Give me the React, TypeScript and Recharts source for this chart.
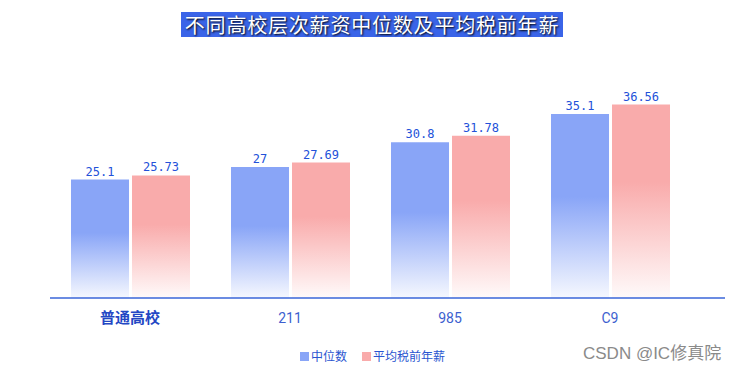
import React from "react";
import { BarChart, Bar, XAxis, YAxis, LabelList } from "recharts";

const categories = ["普通高校", "211", "985", "C9"];
const median = [25.1, 27, 30.8, 35.1];
const avgPreTax = [25.73, 27.69, 31.78, 36.56];

const data = categories.map((name, i) => ({
  name,
  median: median[i],
  avg: avgPreTax[i],
}));

const BLUE = "#89a5f7";
const PINK = "#f9abab";

function CategoryTick(props: any) {
  const { x, y, payload } = props;
  const first = payload.index === 0;
  return (
    <text
      x={x}
      y={y + 17}
      textAnchor="middle"
      fill={first ? "#2347c4" : "#3d5fcf"}
      fontSize={first ? 15 : 14}
      fontWeight={first ? 700 : 400}
      fontFamily="Roboto, 'Noto Sans CJK SC', sans-serif"
    >
      {payload.value}
    </text>
  );
}

export default function App() {
  return (
    <div
      style={{
        position: "absolute",
        left: 0,
        top: 0,
        width: 746,
        height: 372,
        background: "#fff",
        fontFamily: "'Noto Sans CJK SC', sans-serif",
      }}
    >
      <div
        style={{
          position: "absolute",
          left: 181,
          top: 12,
          width: 382,
          height: 25,
          background: "#3a64e8",
          color: "#fff",
          fontSize: 20,
          lineHeight: "25px",
          textAlign: "center",
          textShadow: "1px 1px 2px #000",
          letterSpacing: 0.8,
        }}
      >
        不同高校层次薪资中位数及平均税前年薪
      </div>
      <BarChart
        width={746}
        height={372}
        data={data}
        margin={{ top: 82, right: 21, left: 50, bottom: 44 }}
        barSize={58}
        barGap={3}
      >
        <defs>
          <linearGradient id="gBlue" x1="0" y1="0" x2="0" y2="1">
            <stop offset="0" stopColor={BLUE} stopOpacity={1} />
            <stop offset="0.45" stopColor={BLUE} stopOpacity={1} />
            <stop offset="1" stopColor={BLUE} stopOpacity={0.08} />
          </linearGradient>
          <linearGradient id="gPink" x1="0" y1="0" x2="0" y2="1">
            <stop offset="0" stopColor={PINK} stopOpacity={1} />
            <stop offset="0.4" stopColor={PINK} stopOpacity={1} />
            <stop offset="1" stopColor={PINK} stopOpacity={0.06} />
          </linearGradient>
        </defs>
        <XAxis
          dataKey="name"
          height={30}
          padding={{ left: 0, right: 35 }}
          axisLine={{ stroke: "#3a66d8", strokeWidth: 1.5 }}
          tickLine={false}
          tick={<CategoryTick />}
          interval={0}
        />
        <YAxis hide domain={[7, 40]} allowDataOverflow />
        <Bar dataKey="median" fill="url(#gBlue)" isAnimationActive={false}>
          <LabelList
            dataKey="median"
            position="top"
            offset={4}
            fill="#2251d9"
            fontSize={12}
            fontFamily="'DejaVu Sans Mono', monospace"
          />
        </Bar>
        <Bar dataKey="avg" fill="url(#gPink)" isAnimationActive={false}>
          <LabelList
            dataKey="avg"
            position="top"
            offset={4}
            fill="#2251d9"
            fontSize={12}
            fontFamily="'DejaVu Sans Mono', monospace"
          />
        </Bar>
      </BarChart>
      <div
        style={{
          position: "absolute",
          left: 300,
          top: 348,
          display: "flex",
          alignItems: "center",
          fontSize: 12,
          color: "#2a55d0",
          lineHeight: "16px",
        }}
      >
        <span style={{ width: 9, height: 9, background: BLUE, marginRight: 2 }} />
        <span>中位数</span>
        <span style={{ width: 9, height: 9, background: PINK, marginLeft: 15, marginRight: 2 }} />
        <span>平均税前年薪</span>
      </div>
      <div
        style={{
          position: "absolute",
          left: 583,
          top: 343,
          fontSize: 17,
          color: "#8a8a8a",
          fontFamily: "'Liberation Sans', 'Noto Sans CJK SC', sans-serif",
          lineHeight: "22px",
        }}
      >
        CSDN @IC修真院
      </div>
    </div>
  );
}
